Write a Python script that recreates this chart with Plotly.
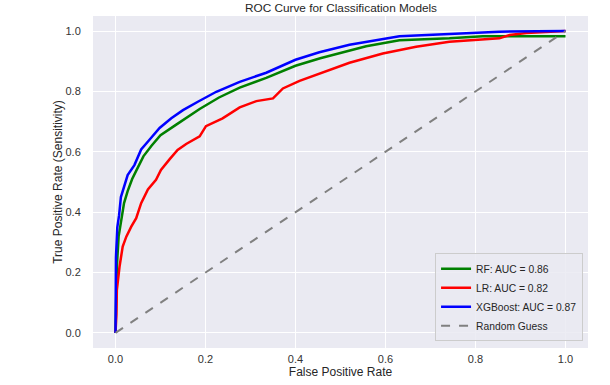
import plotly.graph_objects as go

# ---- data ----
rf_fpr = [0, 0.001, 0.003, 0.007, 0.012, 0.019, 0.027, 0.037, 0.047, 0.062, 0.08, 0.1, 0.135, 0.16,
          0.187, 0.23, 0.276, 0.335, 0.4, 0.455, 0.52, 0.557, 0.631, 0.742, 0.816, 1.0]
rf_tpr = [0, 0.11, 0.22, 0.32, 0.37, 0.43, 0.47, 0.51, 0.54, 0.585, 0.62, 0.655, 0.69, 0.715,
          0.742, 0.78, 0.813, 0.845, 0.885, 0.91, 0.937, 0.95, 0.97, 0.976, 0.983, 0.983]

lr_fpr = [0, 0.002, 0.003, 0.009, 0.016, 0.024, 0.035, 0.046, 0.057, 0.072, 0.09, 0.101, 0.12, 0.138,
          0.157, 0.187, 0.201, 0.238, 0.276, 0.313, 0.35, 0.372, 0.409, 0.468, 0.52, 0.594, 0.668,
          0.742, 0.816, 0.853, 0.876, 0.913, 1.0]
lr_tpr = [0, 0.06, 0.142, 0.22, 0.286, 0.319, 0.352, 0.38, 0.43, 0.475, 0.507, 0.54, 0.575, 0.606,
          0.626, 0.651, 0.685, 0.711, 0.747, 0.768, 0.777, 0.81, 0.835, 0.868, 0.895, 0.926, 0.948,
          0.965, 0.973, 0.976, 0.987, 0.994, 1.0]

xgb_fpr = [0, 0.0, 0.001, 0.004, 0.008, 0.012, 0.016, 0.02, 0.027, 0.042, 0.057, 0.076, 0.098, 0.124,
           0.15, 0.183, 0.224, 0.276, 0.335, 0.4, 0.453, 0.52, 0.557, 0.631, 0.742, 0.853, 1.0]
xgb_tpr = [0, 0.13, 0.25, 0.35, 0.39, 0.45, 0.47, 0.49, 0.523, 0.556, 0.608, 0.641, 0.679, 0.711,
           0.738, 0.766, 0.799, 0.832, 0.862, 0.905, 0.93, 0.955, 0.965, 0.983, 0.99, 0.998, 1.0]

diag_x = [0, 1]
diag_y = [0, 1]

names = ["RF: AUC = 0.86", "LR: AUC = 0.82", "XGBoost: AUC = 0.87", "Random Guess"]
colors = ["green", "red", "blue", "gray"]
ticks = [0.0, 0.2, 0.4, 0.6, 0.8, 1.0]

FONT = "Liberation Sans, Arial, sans-serif"

fig = go.Figure()
for fx, fy, nm, c in [(rf_fpr, rf_tpr, names[0], colors[0]),
                      (lr_fpr, lr_tpr, names[1], colors[1]),
                      (xgb_fpr, xgb_tpr, names[2], colors[2])]:
    fig.add_trace(go.Scatter(x=fx, y=fy, mode="lines", name=nm,
                             line=dict(color=c, width=2.5)))
fig.add_trace(go.Scatter(x=diag_x, y=diag_y, mode="lines", name=names[3],
                         line=dict(color=colors[3], width=2, dash="dash")))

fig.update_layout(
    width=610, height=385,
    paper_bgcolor="white", plot_bgcolor="#EAEAF2",
    margin=dict(l=93, r=22, t=16, b=37, autoexpand=False),
    font=dict(family=FONT, size=11, color="#333333"),
    title=dict(text="ROC Curve for Classification Models", x=0.559, xanchor="center",
               yref="container", y=0.98, yanchor="middle", font=dict(size=11.8, color="#262626")),
    legend=dict(x=0.99, xanchor="right", y=0.02, yanchor="bottom",
                bgcolor="rgba(234,234,242,0.85)", bordercolor="#CCCCCC", borderwidth=1,
                font=dict(size=10.3, color="#262626"), tracegroupgap=0, itemwidth=30),
    showlegend=True,
)
fig.update_xaxes(range=[-0.05, 1.05], tickvals=ticks, tickformat=".1f", automargin=False,
                 showgrid=True, gridcolor="white", gridwidth=1.2, zeroline=False,
                 showline=False, ticks="outside", ticklen=1, tickcolor="rgba(0,0,0,0)",
                 title=dict(text="False Positive Rate", font=dict(size=12, color="#262626"), standoff=2))
fig.update_yaxes(range=[-0.05, 1.05], tickvals=ticks, tickformat=".1f", automargin=False,
                 showgrid=True, gridcolor="white", gridwidth=1.2, zeroline=False,
                 showline=False, ticks="outside", ticklen=9, tickcolor="rgba(0,0,0,0)",
                 title=dict(text="True Positive Rate (Sensitivity)", font=dict(size=12, color="#262626"), standoff=0))

fig.write_html("out.html", config={"displayModeBar": False},
               post_script="document.body.style.margin='0';")
